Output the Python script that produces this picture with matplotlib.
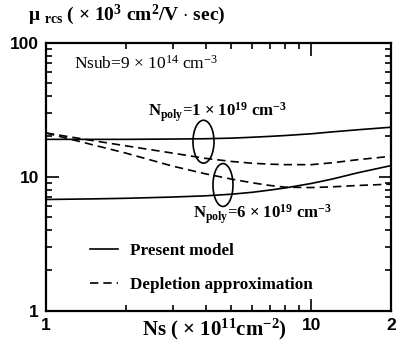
"""
Remote-Coulomb-scattering mobility vs. inversion charge density,
present model vs. depletion approximation, for two poly-Si doping levels.
"""

import matplotlib
matplotlib.use('Agg')
import matplotlib.pyplot as plt
from matplotlib.patches import Ellipse

plt.rcParams['font.family'] = 'Liberation Serif'
plt.rcParams['mathtext.fontset'] = 'custom'
plt.rcParams['mathtext.rm'] = 'Liberation Serif'
plt.rcParams['mathtext.bf'] = 'Liberation Serif:bold'
plt.rcParams['mathtext.default'] = 'bf'

# Ns in units of 1e11 cm^-2
NS = [1, 1.5, 2, 3, 4, 5, 6, 7, 8, 10, 12, 15, 20]

# mobility in units of 1e3 cm^2/V.s
MODEL_1E19 = [19.0, 19.0, 19.0, 19.1, 19.2, 19.4, 19.7, 20.0, 20.3, 20.9, 21.6, 22.4, 23.4]
DEPL_1E19 = [21.2, 18.6, 17.0, 15.0, 13.7, 13.0, 12.6, 12.4, 12.3, 12.3, 12.7, 13.4, 14.2]
MODEL_6E19 = [6.76, 6.83, 6.9, 7.05, 7.2, 7.4, 7.65, 7.95, 8.25, 8.9, 9.6, 10.7, 12.1]
DEPL_6E19 = [21.2, 17.3, 15.0, 12.0, 10.5, 9.6, 9.0, 8.6, 8.35, 8.3, 8.4, 8.6, 8.8]

X_TICKS = [1, 10, 20]
X_TICKLABELS = ['1', '10', '2']
Y_TICKS = [1, 10, 100]
Y_TICKLABELS = ['1', '10', '100']

W, H = 403, 345

fig = plt.figure(figsize=(W / 100, H / 100), dpi=100)
ax = fig.add_axes([46 / W, 1 - 310.7 / H, 345 / W, 268 / H])
ax.set_xscale('log')
ax.set_yscale('log')
ax.set_xlim(1, 20)
ax.set_ylim(1, 100)

lw = 1.2
dash = (5, 3)
l1, = ax.plot(NS, MODEL_1E19, c='k', lw=lw, label='Present model')
ax.plot(NS, MODEL_6E19, c='k', lw=lw)
l2, = ax.plot(NS, DEPL_1E19, c='k', lw=lw, ls='--', dashes=dash, label='Depletion approximation')
ax.plot(NS, DEPL_6E19, c='k', lw=lw, ls='--', dashes=dash)

# ellipses grouping the curves
ax.add_patch(Ellipse((0.4565, 0.6306), 0.061, 0.160, transform=ax.transAxes,
                     fill=False, ec='k', lw=1.2))
ax.add_patch(Ellipse((0.513, 0.469), 0.058, 0.160, transform=ax.transAxes,
                     fill=False, ec='k', lw=1.2))

for s in ax.spines.values():
    s.set_linewidth(1.6)

ax.set_xticks(X_TICKS)
ax.set_xticklabels(X_TICKLABELS)
ax.set_yticks(Y_TICKS)
ax.set_yticklabels(Y_TICKLABELS)
ax.tick_params(which='both', direction='in', top=True, right=True, width=1.2)
ax.tick_params(which='major', length=9, labelsize=12.5, pad=5)
ax.tick_params(which='minor', length=4)
for t in ax.get_xticklabels() + ax.get_yticklabels():
    t.set_family('Liberation Sans')
    t.set_weight('bold')

ax.legend(handles=[l1, l2], loc='upper left', bbox_to_anchor=(0.1275, 0.253),
          frameon=False, borderpad=0, borderaxespad=0,
          handlelength=1.65, handletextpad=0.7, labelspacing=1.08,
          prop={'family': 'Liberation Serif', 'weight': 'bold', 'size': 12.3})

ax.text(0.081, 0.902, r'Nsub=9 $\mathrm{\times}$ 10$\mathrm{^{14}}$ cm$\mathrm{^{-3}}$',
        transform=ax.transAxes, fontsize=12.5, va='baseline')
ax.text(0.2957, 0.7265, r'N$_{\mathbf{poly}}$=1 $\times$ 10$^{19}$ cm$^{-3}$',
        transform=ax.transAxes, fontsize=12.1, fontweight='bold', va='baseline')
ax.text(0.427, 0.345, r'N$_{\mathbf{poly}}$=6 $\times$ 10$^{19}$ cm$^{-3}$',
        transform=ax.transAxes, fontsize=12.1, fontweight='bold', va='baseline')

fig.text(28 / W, 1 - 15 / H, r'$\mu$ $_{\mathbf{rcs}}$ ( $\times$ 10$^{3}$ cm$^{2}$/V $\cdot$ sec)',
         fontsize=14, fontweight='bold', va='center')
fig.text(214 / W, 1 - 329 / H, r'Ns ( $\times$ 10$^{11}$cm$^{-2}$)',
         fontsize=15, fontweight='bold', va='center', ha='center')

fig.savefig('out.png', dpi=100)
